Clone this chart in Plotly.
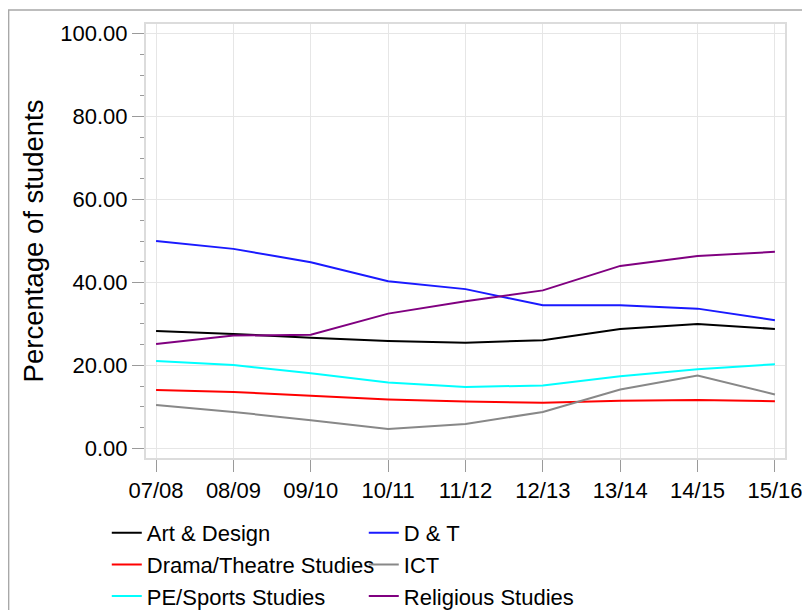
import plotly.graph_objects as go

# School years on the x axis
years = ['07/08', '08/09', '09/10', '10/11', '11/12', '12/13', '13/14', '14/15', '15/16']

# Percentage of students per subject
art_design = [28.3, 27.6, 26.7, 25.9, 25.5, 26.1, 28.8, 30.0, 28.8]
d_and_t = [50.0, 48.1, 44.9, 40.3, 38.4, 34.5, 34.5, 33.7, 30.9]
drama = [14.1, 13.6, 12.7, 11.8, 11.3, 11.0, 11.5, 11.7, 11.4]
ict = [10.5, 8.8, 6.8, 4.7, 5.9, 8.8, 14.2, 17.6, 13.0]
pe_sports = [21.1, 20.1, 18.1, 15.9, 14.8, 15.2, 17.4, 19.1, 20.3]
religious = [25.2, 27.2, 27.4, 32.5, 35.5, 38.1, 44.0, 46.4, 47.4]

y_ticks = [0, 20, 40, 60, 80, 100]

series = [
    ('Art & Design', art_design, '#000000'),
    ('D & T', d_and_t, '#1a1aff'),
    ('Drama/Theatre Studies', drama, '#ff0000'),
    ('ICT', ict, '#888888'),
    ('PE/Sports Studies', pe_sports, '#00ffff'),
    ('Religious Studies', religious, '#800080'),
]

FONT = 'Arial, Liberation Sans, sans-serif'

fig = go.Figure()
for name, vals, color in series:
    fig.add_trace(go.Scatter(
        x=list(range(len(years))),
        y=vals,
        mode='lines',
        name=name,
        line=dict(color=color, width=2),
    ))

axis_common = dict(
    automargin=False,
    showline=True,
    mirror=True,
    linecolor='#dcdcdc',
    linewidth=2,
    showgrid=True,
    gridcolor='#e6e6e6',
    gridwidth=1,
    zeroline=False,
    ticks='outside',
    ticklen=12,
    tickcolor='#9a9a9a',
    tickwidth=1,
    tickfont=dict(size=22, color='#000000', family=FONT),
)

fig.update_layout(
    width=810,
    height=610,
    paper_bgcolor='#ffffff',
    plot_bgcolor='#ffffff',
    font=dict(family=FONT, color='#000000'),
    margin=dict(l=138, r=33, t=16, b=160),
    xaxis=dict(
        **axis_common,
        tickmode='array',
        tickvals=list(range(len(years))),
        ticktext=years,
        range=[-0.13, len(years) - 1 + 0.13],
    ),
    yaxis=dict(
        **axis_common,
        tickmode='array',
        tickvals=y_ticks,
        tickformat='.2f',
        range=[-2.3, 102.3],
        minor=dict(ticks='outside', ticklen=4, tickcolor='#9a9a9a', dtick=5, tick0=0, showgrid=False),
        title=dict(text='Percentage of students', font=dict(size=27.5, family=FONT), standoff=9),
    ),
    legend=dict(
        orientation='h',
        xref='paper',
        x=0.743,
        xanchor='right',
        yref='container',
        y=1 - 504 / 610,
        yanchor='top',
        entrywidth=212,
        font=dict(size=22, family=FONT, color='#000000'),
        bgcolor='rgba(0,0,0,0)',
        traceorder='normal',
    ),
    shapes=[dict(
        type='rect', xref='paper', yref='paper',
        x0=-0.215, x1=1.1, y0=-0.45, y1=1.032,
        line=dict(color='#a8a8a8', width=1.5),
        fillcolor='rgba(0,0,0,0)',
        layer='below',
    )],
)

fig.write_html('out.html')
